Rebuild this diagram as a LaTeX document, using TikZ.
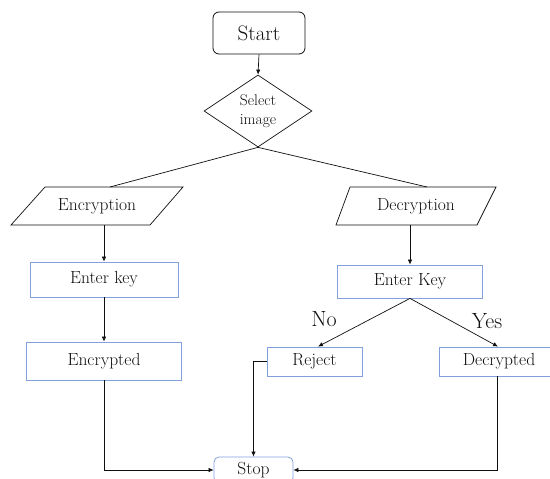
\documentclass[tikz,border=0pt]{standalone}
\usepackage{fontspec}
\usetikzlibrary{shapes.geometric,arrows.meta}
\definecolor{boxblue}{RGB}{130,160,220}
\definecolor{ink}{RGB}{15,15,15}
\begin{document}
\begin{tikzpicture}[x=1pt,y=-1pt,
  txt/.style={font=\fontsize{17.5}{20}\selectfont, text=ink},
  bluebox/.style={draw=boxblue, line width=0.8pt, rectangle, txt, inner sep=0pt},
  conn/.style={draw=ink, line width=0.7pt},
  arr/.style={conn, -{Latex[length=5pt,width=4.5pt]}},
  biglabel/.style={font=\fontsize{22}{24}\selectfont, text=ink}]
\useasboundingbox (0,0) rectangle (550,479);
\clip (0,0) rectangle (550,479);
% Start and decision
\node[draw=ink, rounded corners=6pt, line width=0.8pt, minimum width=92pt, minimum height=42pt, font=\fontsize{21}{24}\selectfont, text=ink] (start) at (259,33) {Start};
\node[draw=ink, diamond, line width=0.7pt, minimum width=108pt, minimum height=72pt, inner sep=0pt, align=center, font=\fontsize{15.5}{19}\selectfont, text=ink] (sel) at (258,111) {Select\\image};
% Parallelograms
\draw[conn] (45,187) -- (183,187) -- (150,225) -- (11,225) -- cycle;
\node[txt] (enc) at (97,206) {Encryption};
\coordinate (enctop) at (110,187);
\coordinate (encbot) at (104,225);
\draw[conn] (350,187) -- (496,187) -- (477,225) -- (336,225) -- cycle;
\node[txt] (dec) at (416,206) {Decryption};
\coordinate (dectop) at (427,187);
\coordinate (decbot) at (410,225);
% Boxes
\node[bluebox, minimum width=148pt, minimum height=35pt] (ek1) at (104,279.5) {Enter key};
\node[bluebox, minimum width=155pt, minimum height=38pt] (encd) at (104,361) {Encrypted};
\node[bluebox, minimum width=145pt, minimum height=33pt] (ek2) at (410,281.5) {Enter Key};
\node[bluebox, minimum width=95pt, minimum height=29pt] (rej) at (314.5,361.5) {Reject};
\node[bluebox, minimum width=120pt, minimum height=29pt] (decd) at (499,361.5) {Decrypted};
\node[bluebox, rounded corners=5pt, minimum width=79pt, minimum height=26pt] (stop) at (253.5,470) {Stop};
% Labels
\node[biglabel] (no) at (324,319) {No};
\node[biglabel] (yes) at (487,321) {Yes};
% Connectors
\draw[arr] (start.south) -- (sel.north);
\draw[conn] (sel.south) -- (enctop);
\draw[conn] (sel.south) -- (dectop);
\draw[arr] (encbot) -- (ek1.north);
\draw[arr] (ek1.south) -- (encd.north);
\draw[arr] (decbot) -- (ek2.north);
\draw[arr] (ek2.south) -- ([xshift=3.5pt]rej.north);
\draw[arr] (ek2.south) -- ([xshift=-1pt]decd.north);
\draw[arr] (rej.west) -| (stop.north);
\draw[arr] (encd.south) |- (stop.west);
\draw[arr] ([xshift=-2pt]decd.south) |- (stop.east);
\end{tikzpicture}
\end{document}
